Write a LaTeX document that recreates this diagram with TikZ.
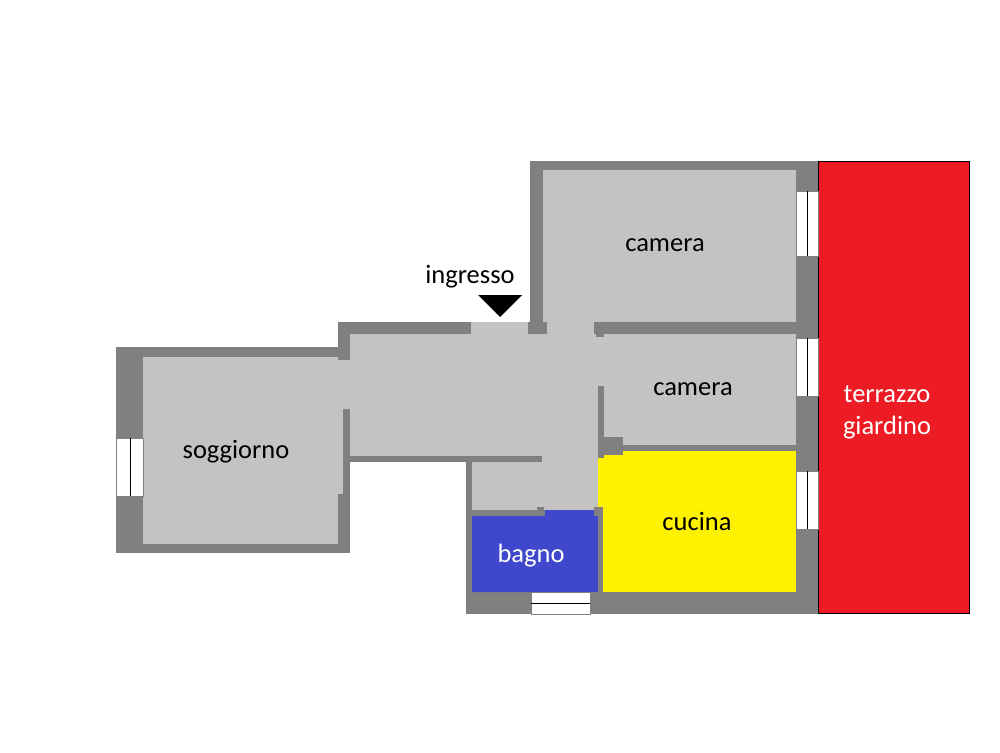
\documentclass[tikz,border=0pt]{standalone}
\usepackage{fontspec}
\setmainfont{Carlito}
\definecolor{wallgray}{HTML}{808080}
\definecolor{roomgray}{HTML}{C3C3C3}
\definecolor{bagnoblue}{HTML}{3F48CC}
\definecolor{cucinayellow}{HTML}{FFF200}
\definecolor{terrazzored}{HTML}{ED1C24}
\tikzset{
  wall/.style={fill=wallgray},
  room/.style={fill=roomgray},
  window/.style={fill=white, draw=wallgray, line width=0.6pt},
  mullion/.style={draw=black, line width=0.9pt},
  label/.style={font=\fontsize{26.5}{32}\selectfont, text=black, inner sep=0pt, align=center},
  whitelabel/.style={label, text=white}
}
\begin{document}
\begin{tikzpicture}[x=1pt, y=-1pt]
  \useasboundingbox (0,0) rectangle (1000,752);

  % Outer walls
  \fill[wall] (116,347) rectangle (350,553);
  \fill[wall] (338,322) rectangle (350,347);
  \fill[wall] (338,322) rectangle (471,334);
  \fill[wall] (530,161) rectangle (818,170);
  \fill[wall] (530,161) rectangle (543,322);
  \fill[wall] (528,322) rectangle (547,334);
  \fill[wall] (796,161) rectangle (818,614);
  \fill[wall] (466,592) rectangle (818,614);
  \fill[wall] (466,456) rectangle (472,614);

  % Rooms
  \fill[room] (143,357) rectangle (338,544);
  \fill[room] (338,360) rectangle (350,409);
  \fill[room] (338,409) rectangle (343,494);
  \fill[room] (350,334) -- (471,334) -- (471,322) -- (528,322) -- (528,334)
    -- (604,334) -- (604,386) -- (598,386) -- (598,510) -- (472,510)
    -- (472,456) -- (350,456) -- cycle;
  \fill[room] (543,170) rectangle (796,334);
  \fill[room] (604,334) rectangle (796,445);
  \fill[terrazzored, draw=black, line width=0.8pt] (818,161) rectangle (969,613);
  \fill[cucinayellow] (598,451) rectangle (796,592);
  \fill[bagnoblue] (472,516) -- (545,516) -- (545,510) -- (598,510) -- (598,592)
    -- (472,592) -- cycle;

  % Inner walls
  \fill[wall] (343,347) rectangle (350,360);
  \fill[wall] (343,409) rectangle (350,456);
  \fill[wall] (350,456) rectangle (542,462);
  \fill[wall] (528,322) rectangle (547,334);
  \fill[wall] (594,322) rectangle (796,334);
  \fill[wall] (596,334) rectangle (604,337);
  \fill[wall] (598,386) rectangle (604,458);
  \fill[wall] (598,437) rectangle (623,455);
  \fill[wall] (623,445) rectangle (796,451);
  \fill[wall] (466,510) rectangle (545,516);
  \fill[wall] (537,507) rectangle (544,510);
  \fill[wall] (594,507) rectangle (603,516);
  \fill[wall] (598,516) rectangle (603,592);

  % Windows
  \filldraw[window] (116,438) rectangle (143,496);
  \draw[mullion] (130,438) -- (130,496);
  \filldraw[window] (531,592) rectangle (590,614);
  \draw[mullion] (531,603) -- (590,603);
  \foreach \top/\bottom in {191/256, 338/396, 471/529} {
    \filldraw[window] (796,\top) rectangle (818,\bottom);
    \draw[mullion] (807,\top) -- (807,\bottom);
  }

  % Entrance
  \fill[black] (478,295) -- (522,295) -- (500,317) -- cycle;

  \node[label] (ingresso) at (470,277) {ingresso};
  \node[label] (cameraA) at (665,245) {camera};
  \node[label] (cameraB) at (693,389) {camera};
  \node[label] (soggiorno) at (236,452) {soggiorno};
  \node[label] (cucina) at (697,521) {cucina};
  \node[whitelabel] (bagno) at (531,556) {bagno};
  \node[whitelabel] (terrazzo) at (887,412) {terrazzo\\giardino};
\end{tikzpicture}
\end{document}
